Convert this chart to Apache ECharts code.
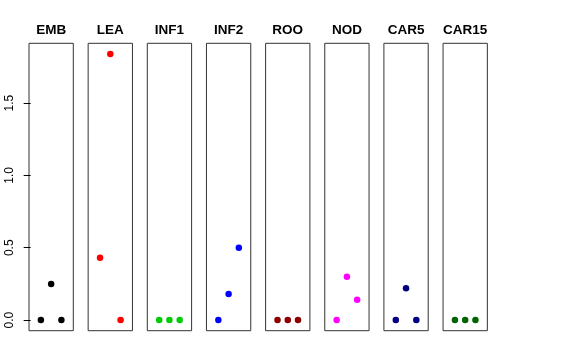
<!DOCTYPE html>
<html>
<head>
<meta charset="utf-8">
<script src="https://cdn.jsdelivr.net/npm/echarts@6/dist/echarts.min.js"></script>
<style>
html,body{margin:0;padding:0;background:#fff;}
#chart{width:576px;height:360px;}
</style>
</head>
<body>
<div id="chart"></div>
<script>
// ---- data ----
const panels = ['EMB', 'LEA', 'INF1', 'INF2', 'ROO', 'NOD', 'CAR5', 'CAR15'];
const panelColors = ['#000000', '#FF0000', '#00CD00', '#0000FF', '#8B0000', '#FF00FF', '#000080', '#006400'];
const xPositions = [1, 2, 3];
const emb = [0, 0.25, 0];
const lea = [0.43, 1.84, 0];
const inf1 = [0, 0, 0];
const inf2 = [0, 0.18, 0.50];
const roo = [0, 0, 0];
const nod = [0, 0.30, 0.14];
const car5 = [0, 0.22, 0];
const car15 = [0, 0, 0];
const yTicks = [0, 0.5, 1, 1.5];
const yTickLabels = ['0.0', '0.5', '1.0', '1.5'];

const panelValues = [emb, lea, inf1, inf2, roo, nod, car5, car15];

// ---- layout ----
const allVals = panelValues.flat();
const yLo = Math.min(...allVals), yHi = Math.max(...allVals);
const yPad = 0.04 * (yHi - yLo);
const xLo = 0, xHi = 4, xPad = 0.04 * (xHi - xLo);

const gridLeft0 = 29, gridStep = 59.15, gridW = 44.3, gridTop = 43.3, gridH = 287.4;
const FONT = '"Liberation Sans", Arial, Helvetica, sans-serif';

const grids = [], xAxes = [], yAxes = [], series = [], titles = [];
panels.forEach((name, i) => {
  const left = gridLeft0 + i * gridStep;
  grids.push({
    left: left, top: gridTop, width: gridW, height: gridH,
    show: true, borderColor: '#333', borderWidth: 1, backgroundColor: 'transparent'
  });
  xAxes.push({
    type: 'value', gridIndex: i, min: xLo - xPad, max: xHi + xPad,
    show: false
  });
  yAxes.push({
    type: 'value', gridIndex: i, min: yLo - yPad, max: yHi + yPad,
    show: i === 0,
    axisLine: { show: false },
    splitLine: { show: false },
    axisTick: { show: true, inside: false, length: 7, customValues: yTicks, lineStyle: { color: '#000', width: 1 } },
    axisLabel: {
      show: true, rotate: 90, margin: 13, fontSize: 12, color: '#000', fontFamily: FONT,
      customValues: yTicks,
      formatter: v => yTickLabels[yTicks.indexOf(v)] ?? ''
    }
  });
  series.push({
    type: 'scatter', xAxisIndex: i, yAxisIndex: i,
    symbol: 'circle', symbolSize: 6.5,
    itemStyle: { color: panelColors[i], opacity: 1 },
    data: xPositions.map((x, k) => [x, panelValues[i][k]]),
    silent: true, animation: false
  });
  titles.push({
    text: name, left: left + gridW / 2, top: 23.5, textAlign: 'center', padding: 0,
    textStyle: { fontSize: 13.5, fontWeight: 'bold', color: '#000', fontFamily: FONT }
  });
});

const chart = echarts.init(document.getElementById('chart'), null, { renderer: 'canvas' });
chart.setOption({
  animation: false,
  backgroundColor: '#fff',
  title: titles,
  grid: grids,
  xAxis: xAxes,
  yAxis: yAxes,
  series: series
});
</script>
</body>
</html>
